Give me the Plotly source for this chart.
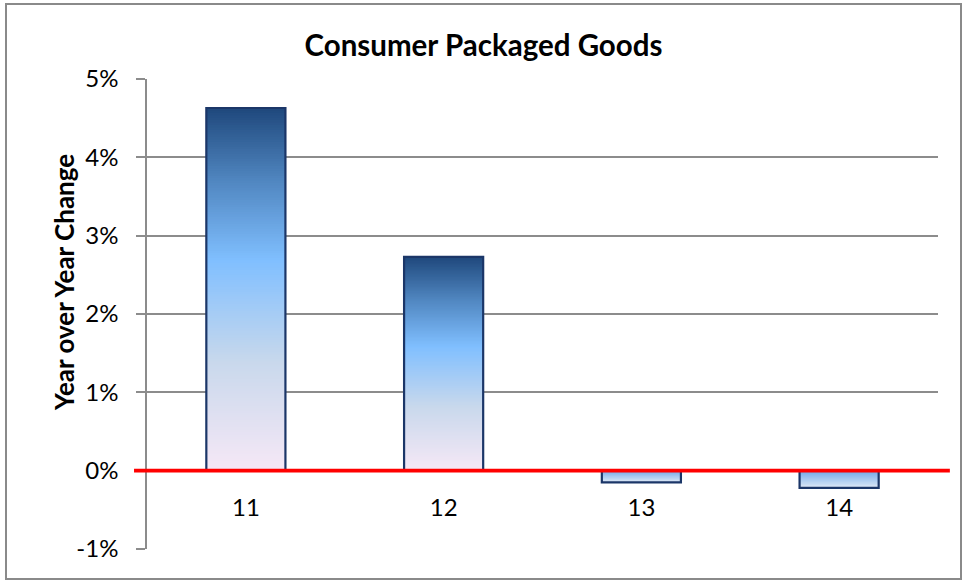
import plotly.graph_objects as go

# Data
categories = ["11", "12", "13", "14"]
yoy_change = [0.0463, 0.0273, -0.0015, -0.0022]

title_text = "Consumer Packaged Goods"
y_title = "Year over Year Change"
y_tickvals = [-0.01, 0.0, 0.01, 0.02, 0.03, 0.04, 0.05]
y_ticktext = ["-1%", "0%", "1%", "2%", "3%", "4%", "5%"]

# Gradient stops (fraction along the bar from the zero line -> colour)
pos_stops = [(0.0, (246, 232, 246)), (0.30, (200, 216, 236)),
             (0.58, (128, 191, 255)), (0.80, (80, 134, 192)),
             (1.0, (31, 72, 124))]
neg_stops = [(0.0, (112, 168, 232)), (1.0, (222, 232, 246))]

N_SEG = 150
FONT = "Lato"


def interp(stops, t):
    for (t0, c0), (t1, c1) in zip(stops[:-1], stops[1:]):
        if t <= t1:
            f = 0 if t1 == t0 else (t - t0) / (t1 - t0)
            return "rgb(%d,%d,%d)" % tuple(round(a + (b - a) * f) for a, b in zip(c0, c1))
    return "rgb(%d,%d,%d)" % stops[-1][1]


fig = go.Figure()

# Gradient fill: each layer runs from a step along the bar out to its end,
# later layers painted over earlier ones
for k in range(N_SEG):
    t = (k + 0.5) / N_SEG
    bases = [v * k / N_SEG for v in yoy_change]
    heights = [v * (N_SEG - k) / N_SEG for v in yoy_change]
    colors = [interp(pos_stops if v >= 0 else neg_stops, t) for v in yoy_change]
    fig.add_trace(go.Bar(
        x=categories, y=heights, base=bases, width=0.40,
        marker=dict(color=colors, line=dict(width=0)),
        showlegend=False, hoverinfo="skip",
    ))

# Bar outlines
fig.add_trace(go.Bar(
    x=categories, y=yoy_change, base=0, width=0.40,
    marker=dict(color="rgba(0,0,0,0)", line=dict(color="#1b3668", width=2.2)),
    showlegend=False,
))

fig.update_layout(
    width=967, height=582,
    barmode="overlay",
    paper_bgcolor="white", plot_bgcolor="white",
    margin=dict(l=147, r=29, t=79, b=33),
    font=dict(family=FONT, color="black"),
    title=dict(text="<b>%s</b>" % title_text, x=0.5, xanchor="center",
               y=1 - 46 / 582, yanchor="middle",
               font=dict(family=FONT, size=29.5, color="black")),
    xaxis=dict(
        type="category", anchor="free", position=1 / 6,
        showline=False, showgrid=False, ticks="", zeroline=False,
        tickfont=dict(size=24), ticklabelstandoff=20,
    ),
    yaxis=dict(
        range=[-0.01, 0.05], tickvals=y_tickvals, ticktext=y_ticktext,
        showgrid=True, gridcolor="#8c8c8c", gridwidth=1.6,
        showline=True, linecolor="#8c8c8c", linewidth=1.6,
        ticks="outside", ticklen=9, tickcolor="#8c8c8c", tickwidth=1.6,
        zeroline=False, tickfont=dict(size=24), ticklabelstandoff=13,
    ),
    shapes=[
        # red zero line
        dict(type="line", xref="paper", yref="y", x0=-0.0164, x1=1.015,
             y0=0, y1=0, line=dict(color="#ff0000", width=3.8), layer="above"),
        # chart border
        dict(type="rect", xref="paper", yref="paper",
             x0=(6 - 147) / 791, x1=(961 - 147) / 791,
             y0=(549 - 579) / 470, y1=(549 - 4) / 470,
             line=dict(color="#8a8a8a", width=2)),
    ],
    annotations=[
        dict(text="<b>%s</b>" % y_title, xref="paper", yref="paper",
             x=(64 - 147) / 791, y=(549 - 283) / 470, textangle=-90,
             showarrow=False, font=dict(family=FONT, size=26, color="black"),
             xanchor="center", yanchor="middle"),
    ],
)

fig.write_html("out.html")
